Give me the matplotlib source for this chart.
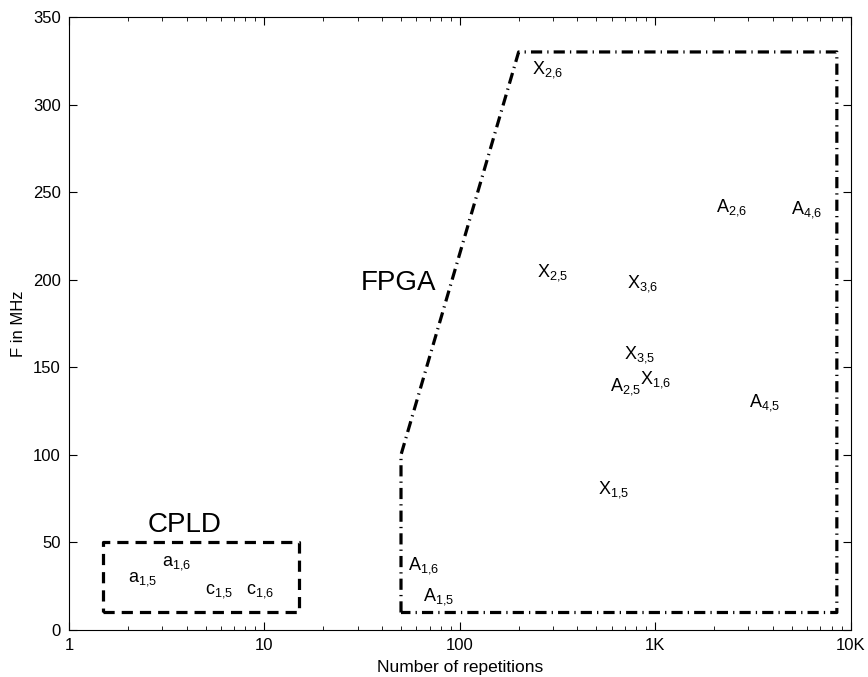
import matplotlib
matplotlib.use("Agg")
import matplotlib.pyplot as plt
import matplotlib.ticker as ticker

plt.rcParams['font.family'] = ['Liberation Sans', 'DejaVu Sans']
plt.rcParams['mathtext.fontset'] = 'custom'
plt.rcParams['mathtext.rm'] = 'Liberation Sans'
plt.rcParams['mathtext.it'] = 'Liberation Sans'

# label positions (repetitions, MHz)
names = ['X_{2{,}6}', 'X_{2{,}5}', 'X_{3{,}6}', 'A_{2{,}6}', 'A_{4{,}6}', 'X_{3{,}5}', 'A_{2{,}5}', 'X_{1{,}6}',
         'A_{4{,}5}', 'X_{1{,}5}', 'A_{1{,}6}', 'A_{1{,}5}', 'a_{1{,}5}', 'a_{1{,}6}', 'c_{1{,}5}', 'c_{1{,}6}']
reps = [235, 249, 721, 2036, 4930, 696, 590, 835, 3005, 512, 54.5, 65, 2.0, 2.99, 4.97, 8.07]
freq = [320, 204, 198, 241, 240, 157, 139, 143, 130, 80, 37, 19, 29, 38, 22, 22]

# region outlines
cpld_x = [1.5, 15, 15, 1.5, 1.5]
cpld_y = [10, 10, 50, 50, 10]
fpga_x = [50, 50, 200, 8500, 8500, 50]
fpga_y = [10, 100, 330, 330, 10, 10]

xticks = [1, 10, 100, 1000, 10000]
xlabels = ['1', '10', '100', '1K', '10K']

fig = plt.figure(figsize=(8.68, 6.77), dpi=100)
ax = fig.add_axes([0.0795, 0.0694, 0.9005, 0.9056])

ax.plot(cpld_x, cpld_y, color='black', lw=2.3, linestyle=(0, (3.5, 2.2)))
ax.plot(fpga_x, fpga_y, color='black', lw=2.3, linestyle=(0, (3.5, 1.6, 0.4, 1.6)))

for n, x, y in zip(names, reps, freq):
    ax.text(x, y, r'$\mathregular{' + n + '}$', fontsize=13, ha='left', va='center')

ax.text(2.54, 60, 'CPLD', fontsize=20, ha='left', va='center')
ax.text(31, 198, 'FPGA', fontsize=20, ha='left', va='center')

ax.set_xscale('log')
ax.set_xlim(1, 10000)
ax.set_ylim(0, 350)
ax.set_xticks(xticks)
ax.set_xticklabels(xlabels)
ax.set_yticks(range(0, 351, 50))
ax.xaxis.set_minor_locator(ticker.LogLocator(base=10, subs=range(2, 10)))
ax.xaxis.set_minor_formatter(ticker.NullFormatter())
ax.tick_params(direction='in', which='both', top=True, right=True, labelsize=12, pad=6)
ax.tick_params(which='major', length=6)
ax.tick_params(which='minor', length=3)
for s in ax.spines.values():
    s.set_linewidth(0.8)

ax.set_xlabel('Number of repetitions', fontsize=12.5, labelpad=5)
ax.set_ylabel('F in MHz', fontsize=12)
ax.yaxis.set_label_coords(-0.055, 0.5)

fig.savefig('out.png', dpi=100)
